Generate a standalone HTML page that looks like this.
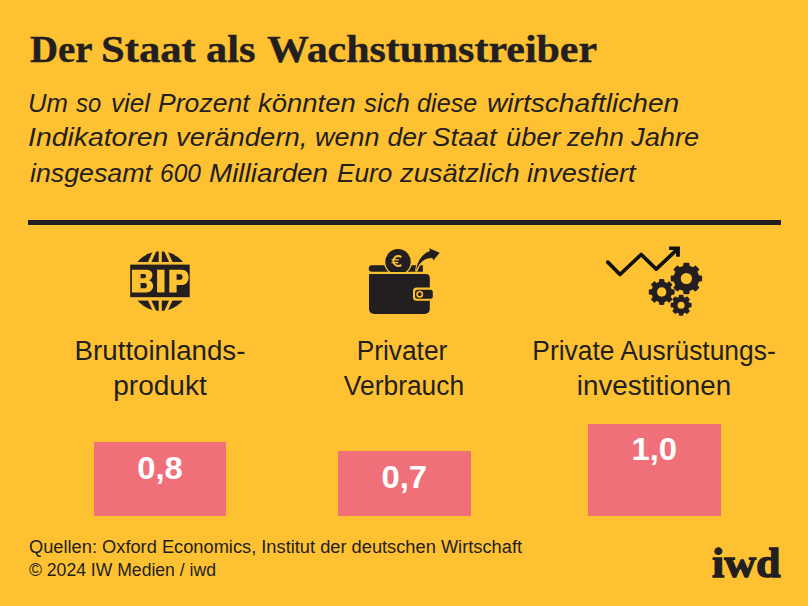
<!DOCTYPE html>
<html lang="de">
<head>
<meta charset="utf-8">
<style>
html,body{margin:0;padding:0;}
body{width:808px;height:606px;background:#fec132;position:relative;overflow:hidden;color:#231f20;font-family:"Liberation Sans",sans-serif;}
.a{position:absolute;white-space:nowrap;line-height:1;}
.title{font-family:"Liberation Serif",serif;font-weight:bold;-webkit-text-stroke:0.4px #231f20;font-size:37.4px;transform-origin:0 0;}
.sub{font-style:italic;font-size:26.5px;transform-origin:0 0;}
.lab{font-size:27px;transform-origin:50% 0;text-align:center;}
.box{position:absolute;background:#f07079;}
.val{font-weight:bold;font-size:32.2px;transform:scaleX(1.02);color:#fff;text-align:center;}
.foot{font-size:18px;transform-origin:0 0;}
.rule{position:absolute;left:28px;top:220px;width:753px;height:5px;background:#231f20;}
.logo{font-family:"Liberation Serif",serif;font-weight:bold;font-size:43px;-webkit-text-stroke:1.3px #231f20;}
svg{position:absolute;}
</style>
</head>
<body>
<div class="a title" id="t" style="left:30px;top:29.8px;font-size:38.5px;transform:scaleX(1.01)">Der</div>
<div class="a title" style="left:101.3px;top:29.8px;font-size:38.5px;transform:scaleX(1.107)">Staat</div>
<div class="a title" style="left:206.4px;top:29.8px;font-size:38.5px;transform:scaleX(1.1)">als</div>
<div class="a title" style="left:266.8px;top:29.8px;font-size:38.5px;transform:scaleX(1.0895)">Wachstumstreiber</div>
<!--W-START-->
<div class="a sub" style="left:28.06px;top:90.1px;transform:scaleX(0.9695)">Um</div>
<div class="a sub" style="left:75.52px;top:90.1px;transform:scaleX(0.9007)">so</div>
<div class="a sub" style="left:110.51px;top:90.1px;transform:scaleX(0.9852)">viel</div>
<div class="a sub" style="left:157.50px;top:90.1px;transform:scaleX(1.0044)">Prozent</div>
<div class="a sub" style="left:257.96px;top:90.1px;transform:scaleX(1.0366)">könnten</div>
<div class="a sub" style="left:363.50px;top:90.1px;transform:scaleX(0.9741)">sich</div>
<div class="a sub" style="left:417.05px;top:90.1px;transform:scaleX(0.9517)">diese</div>
<div class="a sub" style="left:486.94px;top:90.1px;transform:scaleX(1.0611)">wirtschaftlichen</div>
<div class="a sub" style="left:28.45px;top:124.3px;transform:scaleX(1.0708)">Indikatoren</div>
<div class="a sub" style="left:176.44px;top:124.3px;transform:scaleX(1.0378)">verändern,</div>
<div class="a sub" style="left:314.99px;top:124.3px;transform:scaleX(1.0163)">wenn</div>
<div class="a sub" style="left:387.50px;top:124.3px;transform:scaleX(1.0000)">der</div>
<div class="a sub" style="left:432.45px;top:124.3px;transform:scaleX(1.0453)">Staat</div>
<div class="a sub" style="left:506.47px;top:124.3px;transform:scaleX(1.0266)">über</div>
<div class="a sub" style="left:566.99px;top:124.3px;transform:scaleX(0.9861)">zehn</div>
<div class="a sub" style="left:631.01px;top:124.3px;transform:scaleX(1.0303)">Jahre</div>
<div class="a sub" style="left:29.50px;top:159.5px;transform:scaleX(1.0100)">insgesamt</div>
<div class="a sub" style="left:160.12px;top:159.5px;transform:scaleX(0.9258)">600</div>
<div class="a sub" style="left:209.46px;top:159.5px;transform:scaleX(1.0500)">Milliarden</div>
<div class="a sub" style="left:337.00px;top:159.5px;transform:scaleX(0.9891)">Euro</div>
<div class="a sub" style="left:399.50px;top:159.5px;transform:scaleX(1.0293)">zusätzlich</div>
<div class="a sub" style="left:527.49px;top:159.5px;transform:scaleX(1.0244)">investiert</div>
<!--W-END-->
<div class="rule"></div>

<!-- BIP icon -->
<svg style="left:125px;top:245px" width="70" height="70" viewBox="125 245 70 70">
  <circle cx="160.2" cy="281.15" r="29.8" fill="#231f20"/>
  <g stroke="#fec132" stroke-width="3.1" fill="none">
    <line x1="160.25" y1="248" x2="160.25" y2="315"/>
    <line x1="156.1" y1="248" x2="148.3" y2="265"/>
    <line x1="164.4" y1="248" x2="172.2" y2="265"/>
    <line x1="156.1" y1="314.3" x2="148.3" y2="297.3"/>
    <line x1="164.4" y1="314.3" x2="172.2" y2="297.3"/>
  </g>
  <rect x="127" y="262" width="66" height="38.6" fill="#fec132"/>
  <rect x="130.2" y="264.6" width="59.5" height="32.6" fill="#231f20"/>
  <g fill="#fec132" fill-rule="evenodd">
    <path d="M131.9 269.7H146.3C150.6 269.7 152.4 272.3 152.4 274.9C152.4 277.3 151.1 279.2 148.9 280.2C151.6 280.9 153.1 283.2 153.1 286C153.1 289.6 150.6 292.4 146.3 292.4H131.9Z M140.6 273.9H144.2C145.4 273.9 146 274.8 146 276C146 277.3 145.3 278.2 144.2 278.2H140.6Z M140.6 283.1H144.8C146.2 283.1 146.9 284.2 146.9 285.7C146.9 287.2 146.1 288.3 144.8 288.3H140.6Z"/>
    <rect x="157.1" y="269.7" width="7.4" height="22.7"/>
    <path d="M169.3 269.7H181.6C186 269.7 188.6 272.6 188.6 277.3C188.6 282.1 185.8 285.1 181.6 285.1H176.6V292.4H169.3Z M176.6 274.2H180.4C181.9 274.2 182.6 275.4 182.6 277C182.6 278.6 181.8 279.8 180.4 279.8H176.6Z"/>
  </g>
</svg>

<!-- Wallet icon -->
<svg style="left:360px;top:240px" width="90" height="80" viewBox="360 240 90 80">
  <path d="M372 265.3 H422.9 V271.8 H372 A3.25 3.25 0 0 1 372 265.3 Z" fill="#231f20"/>
  <path d="M416.3 270.5 C416.8 262.5 421 254.5 429.8 251.1 L429.3 248.2 L439.7 252.7 L433.3 260.6 L432.4 258.1 C424.8 257.9 419.5 262.3 416.3 270.5 Z" fill="#231f20" stroke="#fec132" stroke-width="2.4" paint-order="stroke" stroke-linejoin="round"/>
  <circle cx="398" cy="261.8" r="14" fill="#fec132"/>
  <circle cx="398" cy="261.8" r="12.7" fill="#231f20"/>
  <g fill="none" stroke="#fec132">
    <path d="M401.3 257.1 A4.9 4.9 0 1 0 401.3 264.9" stroke-width="2"/>
    <path d="M391.5 259.9 H398.8 M391.5 262.6 H398.3" stroke-width="1.3"/>
  </g>
  <path d="M369.5 274 H425.8 A4 4 0 0 1 429.8 278 V309 A5 5 0 0 1 424.8 314 H374 A5 5 0 0 1 369 309 V274.5 Z" fill="#231f20" stroke="#fec132" stroke-width="4" paint-order="stroke"/>
  <rect x="413" y="287.6" width="22" height="13.1" rx="3.5" fill="#fec132"/>
  <rect x="415" y="289.8" width="17.8" height="8.9" rx="2.5" fill="#231f20"/>
  <circle cx="419.7" cy="294.2" r="2.7" fill="none" stroke="#fec132" stroke-width="1.6"/>
</svg>

<!-- Growth / gears icon -->
<svg style="left:600px;top:240px" width="110" height="80" viewBox="600 240 110 80">
  <polyline points="607.8,262.1 620,274.5 641.2,254.5 656.2,269.1 677.2,249.4" fill="none" stroke="#111" stroke-width="3.7" stroke-linecap="round" stroke-linejoin="round"/>
  <path d="M669.1 246.5H679.9V256.7H676.1V249.9H669.1Z" fill="#111"/>
  <g fill="#231f20">
    <g transform="translate(686.4 278.5)">
      <circle r="12.9"/>
      <g id="gA"><rect x="-3.1" y="-15.7" width="6.2" height="5.699999999999999" rx="1.1"/></g>
      <use href="#gA" transform="rotate(45)"/><use href="#gA" transform="rotate(90)"/><use href="#gA" transform="rotate(135)"/><use href="#gA" transform="rotate(180)"/><use href="#gA" transform="rotate(225)"/><use href="#gA" transform="rotate(270)"/><use href="#gA" transform="rotate(315)"/>
      <circle r="5.6" fill="#fec132"/>
    </g>
    <g transform="translate(661.7 292)">
      <circle r="10.4"/>
      <g id="gB"><rect x="-2.7" y="-12.9" width="5.4" height="4.9" rx="1.1"/></g>
      <use href="#gB" transform="rotate(45)"/><use href="#gB" transform="rotate(90)"/><use href="#gB" transform="rotate(135)"/><use href="#gB" transform="rotate(180)"/><use href="#gB" transform="rotate(225)"/><use href="#gB" transform="rotate(270)"/><use href="#gB" transform="rotate(315)"/>
      <circle r="4.7" fill="#fec132"/>
    </g>
    <g transform="translate(681.1 305.2)">
      <circle r="8.4"/>
      <g id="gC"><rect x="-2.4" y="-10.5" width="4.8" height="4.0" rx="1.1"/></g>
      <use href="#gC" transform="rotate(45)"/><use href="#gC" transform="rotate(90)"/><use href="#gC" transform="rotate(135)"/><use href="#gC" transform="rotate(180)"/><use href="#gC" transform="rotate(225)"/><use href="#gC" transform="rotate(270)"/><use href="#gC" transform="rotate(315)"/>
      <circle r="3.5" fill="#fec132"/>
    </g>
  </g>
</svg>

<div class="a lab" id="l1a" style="left:60px;width:200px;top:338px;transform:scaleX(1.025)">Bruttoinlands-</div>
<div class="a lab" id="l1b" style="left:60px;width:200px;top:372.5px;transform:scaleX(1.039)">produkt</div>
<div class="a lab" id="l2a" style="left:301.5px;width:200px;top:338px;transform:scaleX(0.974)">Privater</div>
<div class="a lab" id="l2b" style="left:304px;width:200px;top:372.5px;transform:scaleX(0.977)">Verbrauch</div>
<div class="a lab" id="l3a" style="left:504px;width:300px;top:338px;transform:scaleX(0.977)">Private Ausrüstungs-</div>
<div class="a lab" id="l3b" style="left:504px;width:300px;top:372.5px;transform:scaleX(1.028)">investitionen</div>

<div class="box" style="left:94px;top:442px;width:132px;height:73.7px;"></div>
<div class="box" style="left:338px;top:451px;width:132.6px;height:64.7px;"></div>
<div class="box" style="left:588px;top:424px;width:132.6px;height:91.7px;"></div>
<div class="a val" id="v1" style="left:94px;width:132px;top:452.4px;">0,8</div>
<div class="a val" id="v2" style="left:338px;width:132.6px;top:461.4px;">0,7</div>
<div class="a val" id="v3" style="left:588px;width:132.6px;top:432.7px;">1,0</div>

<div class="a foot" id="f1" style="left:28.5px;top:537.5px;transform:scaleX(1.014)">Quellen: Oxford Economics, Institut der deutschen Wirtschaft</div>
<div class="a foot" id="f2" style="left:29px;top:560.8px;transform:scaleX(0.977)">© 2024 IW Medien / iwd</div>
<div class="a logo" id="logo" style="left:712.3px;top:541px;transform:scaleX(1.025);transform-origin:0 0;">iwd</div>
</body>
</html>
